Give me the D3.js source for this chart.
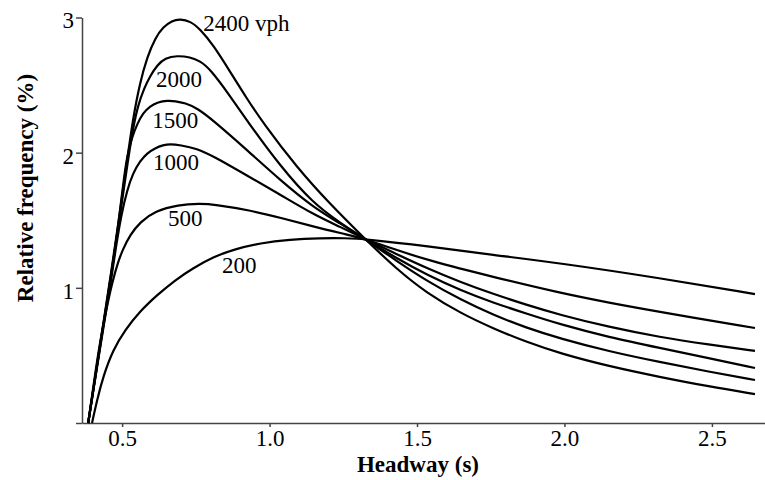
<!DOCTYPE html>
<html>
<head>
<meta charset="utf-8">
<script src="https://cdn.jsdelivr.net/npm/d3@7"></script>
<style>
  body { margin: 0; background: #fff; }
  svg text { font-family: "Liberation Serif", "Times New Roman", serif; fill: #000; }
  .axis path, .axis line { stroke: #444; stroke-width: 1.5; }
  .axis text { font-size: 23px; }
  .title { font-size: 23px; font-weight: bold; }
  .flowLabel { font-size: 23px; }
</style>
</head>
<body>
<script>
"use strict";
(function(){
    // headway (s) / relative frequency (%) pairs
    const flow2400 = [[0.385,0],[0.425,0.577],[0.459,1.058],[0.493,1.561],[0.517,1.945],[0.537,2.256],
        [0.561,2.522],[0.585,2.707],[0.612,2.848],[0.639,2.929],[0.669,2.977],[0.697,2.988],[0.731,2.973],
        [0.764,2.915],[0.808,2.800],[0.866,2.600],[0.920,2.410],[0.978,2.220],[1.093,1.890],[1.205,1.620],
        [1.324,1.361],[1.430,1.140],[1.534,0.960],[1.650,0.810],[1.758,0.700],[1.870,0.600],[1.985,0.515],
        [2.150,0.420],[2.324,0.340],[2.490,0.270],[2.646,0.214]];
    const flow2000 = [[0.385,0],[0.425,0.570],[0.459,1.043],[0.493,1.538],[0.520,1.945],[0.537,2.182],
        [0.554,2.352],[0.575,2.478],[0.595,2.567],[0.619,2.648],[0.646,2.700],[0.686,2.718],[0.731,2.707],
        [0.764,2.678],[0.798,2.620],[0.866,2.420],[0.924,2.235],[1.036,1.900],[1.147,1.627],[1.240,1.480],
        [1.324,1.361],[1.430,1.200],[1.534,1.050],[1.650,0.910],[1.758,0.800],[1.870,0.705],[1.985,0.625],
        [2.150,0.530],[2.324,0.450],[2.490,0.380],[2.646,0.318]];
    const flow1500 = [[0.385,0],[0.425,0.562],[0.459,1.021],[0.486,1.442],[0.503,1.760],[0.517,1.982],
        [0.534,2.115],[0.551,2.212],[0.571,2.293],[0.595,2.345],[0.622,2.374],[0.653,2.385],[0.680,2.382],
        [0.714,2.367],[0.754,2.330],[0.808,2.241],[0.924,2.019],[1.036,1.797],[1.147,1.598],[1.240,1.475],
        [1.324,1.361],[1.430,1.220],[1.534,1.095],[1.650,0.980],[1.758,0.890],[1.870,0.810],[1.985,0.730],
        [2.150,0.635],[2.324,0.555],[2.490,0.480],[2.646,0.407]];
    const flow1000 = [[0.385,0],[0.425,0.555],[0.459,0.999],[0.480,1.317],[0.497,1.538],[0.517,1.723],
        [0.537,1.849],[0.561,1.938],[0.585,1.997],[0.612,2.034],[0.639,2.056],[0.663,2.064],[0.697,2.056],
        [0.754,2.030],[0.808,1.975],[0.924,1.830],[1.036,1.690],[1.147,1.545],[1.240,1.450],[1.324,1.361],
        [1.430,1.250],[1.534,1.145],[1.650,1.040],[1.758,0.955],[1.870,0.875],[1.985,0.800],[2.150,0.710],
        [2.324,0.635],[2.490,0.580],[2.646,0.533]];
    const flow500 = [[0.385,0],[0.408,0.355],[0.425,0.599],[0.446,0.836],[0.466,1.036],[0.486,1.191],
        [0.503,1.287],[0.527,1.391],[0.561,1.487],[0.612,1.568],[0.690,1.615],[0.764,1.623],[0.815,1.616],
        [0.931,1.575],[1.042,1.516],[1.154,1.450],[1.269,1.391],[1.324,1.361],[1.430,1.280],
        [1.534,1.206],[1.758,1.080],[1.985,0.962],[2.150,0.890],[2.324,0.821],[2.646,0.703]];
    const flow200 = [[0.398,0],[0.415,0.170],[0.436,0.345],[0.469,0.540],[0.510,0.688],[0.561,0.828],
        [0.619,0.947],[0.680,1.058],[0.741,1.146],[0.808,1.228],[0.883,1.287],[0.968,1.331],[1.069,1.357],
        [1.171,1.368],[1.256,1.368],[1.324,1.361],[1.534,1.309],[1.758,1.243],[1.985,1.183],
        [2.324,1.072],[2.646,0.954]];

    const seriesData = [flow2400, flow2000, flow1500, flow1000, flow500, flow200];
    const seriesNames = ["2400 vph", "2000", "1500", "1000", "500", "200"];
    // where each label starts (headway, frequency of its baseline)
    const labelAt = [[0.775,2.899],[0.615,2.485],[0.602,2.182],[0.605,1.871],[0.656,1.457],[0.839,1.109]];

    const xTicks = [0.5, 1.0, 1.5, 2.0, 2.5];
    const yTicks = [0, 1, 2, 3];

    const measurements = { width: 765, height: 480 };

    const svgContainer = d3.select("body").append("svg")
        .attr("width", measurements.width)
        .attr("height", measurements.height);

    const scaleX = d3.scaleLinear().domain([0.364, 2.68]).range([82, 765]);
    const scaleY = d3.scaleLinear().domain([0, 3]).range([423, 17.5]);

    const xAxis = d3.axisBottom(scaleX)
        .tickValues(xTicks)
        .tickSize(4)
        .tickSizeOuter(0)
        .tickFormat(d3.format(".1f"));
    const yAxis = d3.axisLeft(scaleY)
        .tickValues(yTicks)
        .tickSize(6)
        .tickSizeOuter(0)
        .tickFormat(d => d === 0 ? "" : d);

    svgContainer.append("g")
        .attr("class", "axis")
        .attr("transform", "translate(0," + scaleY(0) + ")")
        .call(xAxis)
        .call(g => g.selectAll("text").attr("dy", "0.71em"));

    svgContainer.append("g")
        .attr("class", "axis")
        .attr("transform", "translate(" + scaleX(0.364) + ",0)")
        .call(yAxis)
        .call(g => g.selectAll("text").attr("x", -8).attr("dy", "0.45em"));

    const line = d3.line()
        .x(d => scaleX(d[0]))
        .y(d => scaleY(d[1]))
        .curve(d3.curveBasis);

    svgContainer.selectAll(".flow")
        .data(seriesData)
        .enter()
        .append("path")
        .attr("class", "flow")
        .attr("d", line)
        .attr("fill", "none")
        .attr("stroke", "#000")
        .attr("stroke-width", 2.2);

    svgContainer.selectAll(".flowLabel")
        .data(seriesNames)
        .enter()
        .append("text")
        .attr("class", "flowLabel")
        .attr("x", (d, i) => scaleX(labelAt[i][0]))
        .attr("y", (d, i) => scaleY(labelAt[i][1]))
        .text(d => d);

    svgContainer.append("text")
        .attr("class", "title")
        .attr("x", 418)
        .attr("y", 472)
        .attr("text-anchor", "middle")
        .text("Headway (s)");

    svgContainer.append("text")
        .attr("class", "title")
        .attr("transform", "translate(33,188)rotate(-90)")
        .attr("text-anchor", "middle")
        .text("Relative frequency (%)");
})()
</script>
</body>
</html>
